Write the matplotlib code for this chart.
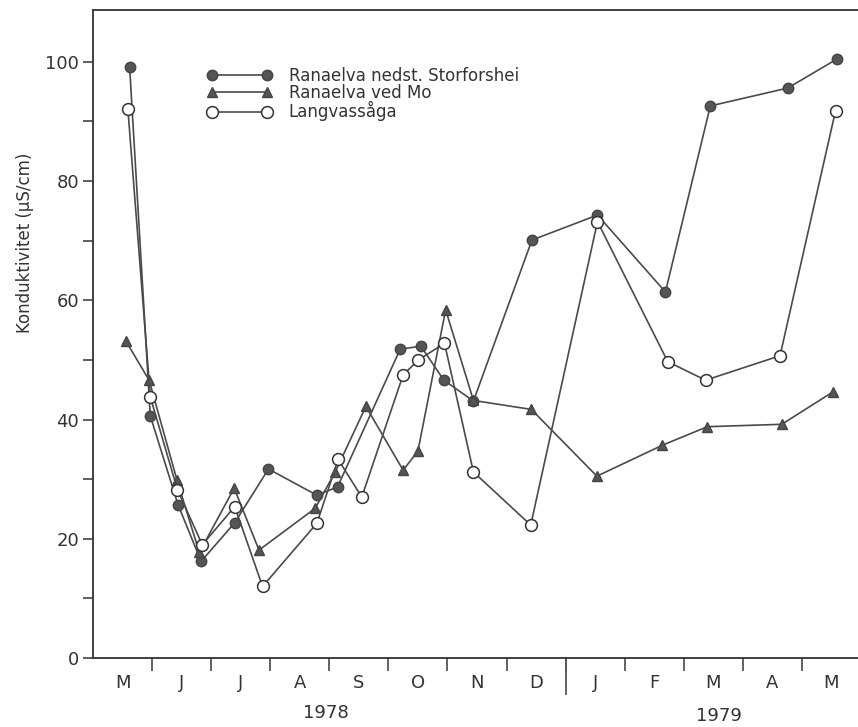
import matplotlib
matplotlib.use("Agg")
import matplotlib.pyplot as plt
from matplotlib.ticker import MultipleLocator

plt.rcParams['font.family'] = ['DejaVu Sans']

# data, x in months since 1 May 1978
storf_x = [0.62, 0.97, 1.44, 1.83, 2.40, 2.97, 3.79, 4.14, 5.20, 5.55, 5.94,
           6.44, 7.43, 8.54, 9.69, 10.45, 11.76, 12.60]
storf_y = [99.1, 40.6, 25.7, 16.2, 22.7, 31.7, 27.3, 28.7, 51.8, 52.3, 46.6,
           43.1, 70.1, 74.3, 61.4, 92.6, 95.6, 100.5]

mo_x = [0.56, 0.95, 1.42, 1.80, 2.39, 2.81, 3.76, 4.10, 4.62, 5.25, 5.50,
        5.97, 6.44, 7.42, 8.53, 9.64, 10.40, 11.66, 12.52]
mo_y = [53.1, 46.6, 29.9, 17.7, 28.5, 18.1, 25.1, 31.2, 42.2, 31.5, 34.7,
        58.4, 43.2, 41.7, 30.5, 35.7, 38.8, 39.2, 44.6]

lang_x = [0.59, 0.97, 1.43, 1.85, 2.40, 2.87, 3.79, 4.15, 4.55, 5.25, 5.51,
          5.95, 6.44, 7.41, 8.54, 9.73, 10.37, 11.63, 12.57]
lang_y = [92.1, 43.8, 28.2, 19.0, 25.4, 12.0, 22.6, 33.3, 27.0, 47.5, 50.0,
          52.8, 31.2, 22.3, 73.2, 49.7, 46.6, 50.7, 91.8]

months = ['M', 'J', 'J', 'A', 'S', 'O', 'N', 'D', 'J', 'F', 'M', 'A', 'M']
years = ['1978', '1979']
year_pos = [3.94, 10.59]

col = '#4a4a4a'
txt = '#333333'

fig = plt.figure(figsize=(8.58, 7.27), dpi=100)
ax = fig.add_axes([0.1084, 0.0949, 0.8916, 0.8914])

ax.plot(storf_x, storf_y, '-o', color=col, lw=1.2, ms=7.5, mfc='#555555',
        mec='#444444', label='Ranaelva nedst. Storforshei')
ax.plot(mo_x, mo_y, '-^', color=col, lw=1.2, ms=7.5, mfc='#555555',
        mec='#444444', label='Ranaelva ved Mo')
ax.plot(lang_x, lang_y, '-o', color=col, lw=1.2, ms=8.5, mfc='white',
        mec='#333333', mew=1.1, label='Langvassåga')

ax.set_xlim(0, 12.95)
ax.set_ylim(0, 108.7)

for s in ['left', 'bottom', 'top']:
    ax.spines[s].set_color('#333333')
    ax.spines[s].set_linewidth(1.3)
ax.spines['right'].set_visible(False)

# y ticks
ax.yaxis.set_major_locator(MultipleLocator(20))
ax.yaxis.set_minor_locator(MultipleLocator(10))
ax.tick_params(axis='y', which='both', direction='out', length=7, width=1.1,
               color='#333333', labelsize=13, labelcolor=txt, pad=3)

# x ticks at month boundaries, longer one at new year
ax.set_xticks(range(1, 13))
ax.set_xticklabels([])
ax.tick_params(axis='x', which='major', direction='out', length=9, width=1.3,
               color='#555555')
ax.plot([8, 8], [0, -0.055], transform=ax.get_xaxis_transform(), color='#555555',
        lw=1.3, clip_on=False)

for i, m in enumerate(months):
    ax.text(i + 0.5, -0.038, m, transform=ax.get_xaxis_transform(),
            ha='center', va='center', fontsize=13, color=txt)
for p, yr in zip(year_pos, years):
    ax.text(p, -0.085 if yr == '1978' else -0.09, yr,
            transform=ax.get_xaxis_transform(), ha='center', va='center',
            fontsize=13, color=txt)

ax.set_ylabel('Konduktivitet (µS/cm)', fontsize=12, color=txt)
ax.yaxis.set_label_coords(-0.077, 0.64)

leg = ax.legend(loc='upper left', bbox_to_anchor=(0.149, 0.912), frameon=False,
                numpoints=2, handlelength=3.9, handletextpad=1.0,
                labelspacing=-0.05, borderpad=0, borderaxespad=0, fontsize=12)
for t in leg.get_texts():
    t.set_color(txt)

fig.savefig('out.png', dpi=100)
